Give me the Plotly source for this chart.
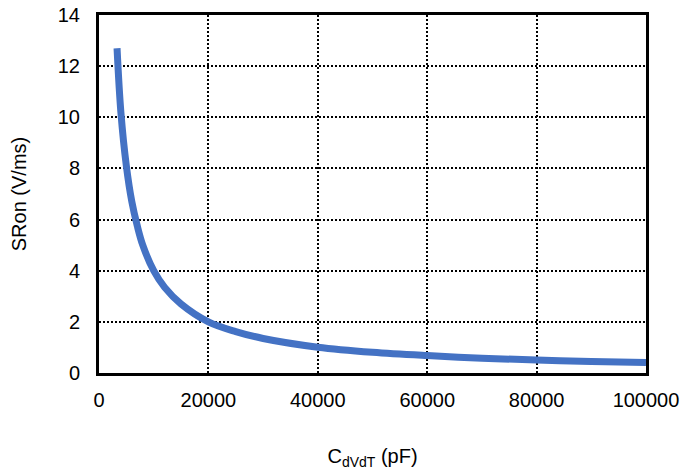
import plotly.graph_objects as go

cap_pf = [3300, 4000, 5000, 6000, 7000, 8000, 10000, 12000, 15000, 20000,
          25000, 30000, 40000, 50000, 60000, 70000, 80000, 90000, 100000]
sr_on = [12.7, 10.2, 8.1, 6.7, 5.75, 5.0, 4.0, 3.35, 2.7, 2.0,
         1.62, 1.35, 1.01, 0.81, 0.68, 0.58, 0.51, 0.45, 0.41]

x_ticks = [0, 20000, 40000, 60000, 80000, 100000]
y_ticks = [0, 2, 4, 6, 8, 10, 12, 14]

fig = go.Figure()
fig.add_trace(go.Scatter(x=cap_pf, y=sr_on, mode="lines",
                         line=dict(color="#4472C4", width=7, shape="spline", smoothing=1.0),
                         showlegend=False))

font = dict(family="Liberation Sans, Arial, sans-serif", size=20, color="#000000")
# page body has an 8px default margin, so the figure is sized/offset to compensate
fig.update_layout(
    width=687, height=462,
    margin=dict(l=91, r=49, t=7, b=97),
    paper_bgcolor="white", plot_bgcolor="white",
    font=font,
)
fig.update_xaxes(range=[0, 100000], tickvals=x_ticks, ticktext=[str(v) for v in x_ticks],
                 showline=True, linecolor="black", linewidth=3, mirror=True,
                 showgrid=True, gridcolor="black", griddash="2px,2px", gridwidth=2,
                 zeroline=False, ticks="", ticklabelstandoff=7, automargin=False,
                 ticklabeloverflow="allow",
                 title=dict(text="C<sub>dVdT</sub> (pF)", standoff=43, font=font))
fig.update_yaxes(range=[0, 14], tickvals=y_ticks,
                 showline=True, linecolor="black", linewidth=3, mirror=True,
                 showgrid=True, gridcolor="black", griddash="2px,2px", gridwidth=2,
                 zeroline=False, ticks="", ticklabelstandoff=12, automargin=False,
                 ticklabeloverflow="allow",
                 title=dict(text="SRon (V/ms)", standoff=26, font=font))

fig.write_html("out.html")
